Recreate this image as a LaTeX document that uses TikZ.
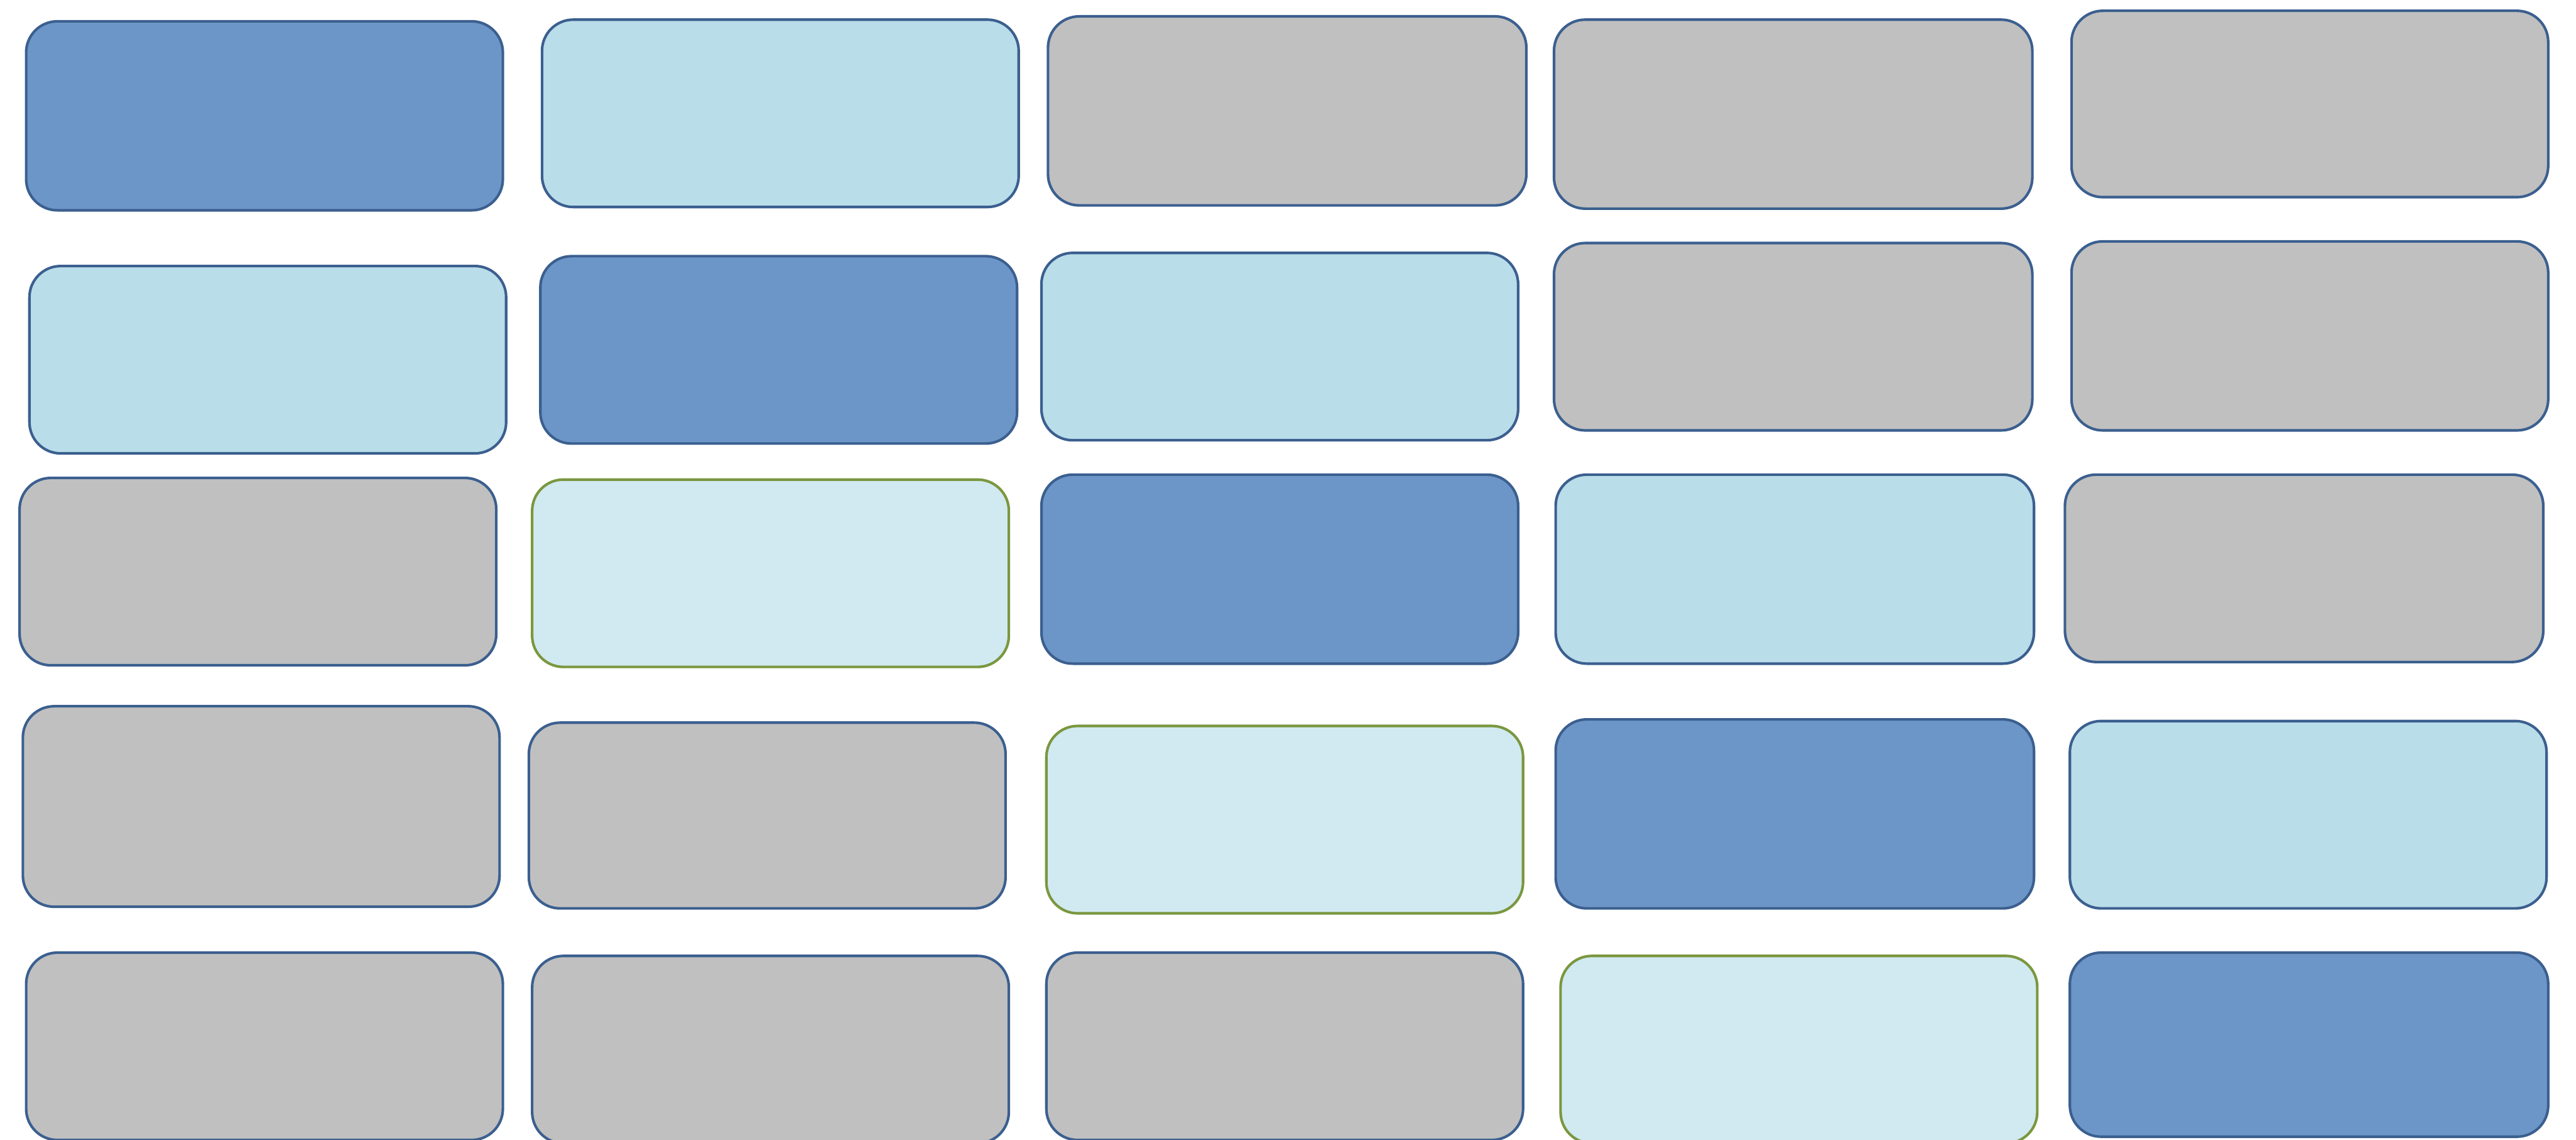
\documentclass[tikz,border=0pt]{standalone}
\usepackage{xcolor}
\usepackage{tikz}
\usetikzlibrary{positioning}
\definecolor{tileBlue}{HTML}{6D96C8}
\definecolor{tileLight}{HTML}{B9DDE9}
\definecolor{tileGrey}{HTML}{C0C0C0}
\definecolor{tilePale}{HTML}{D1E9F0}
\definecolor{edgeBlue}{HTML}{3B5F8F}
\definecolor{edgeGreen}{HTML}{7A973F}
\begin{document}
\begin{tikzpicture}[x=0.01cm,y=-0.01cm,
  tile/.style={rectangle,rounded corners=0.19cm,draw=edgeBlue,line width=0.45pt,
    minimum width=2.90cm,minimum height=1.14cm,inner sep=0pt,outer sep=0pt},
  darktile/.style={tile,fill=tileBlue},
  lighttile/.style={tile,fill=tileLight},
  greytile/.style={tile,fill=tileGrey},
  paletile/.style={tile,fill=tilePale,draw=edgeGreen}]
\clip (0,0) rectangle (1568,694);
% --- row 1 ---
  \node[darktile,minimum height=1.15cm] (t11) at (161,70.5) {};
  \node[lighttile] (t12) at (475,69) {};
  \node[greytile,minimum width=2.91cm,minimum height=1.15cm] (t13) at (783.5,67.5) {};
  \node[greytile,minimum width=2.91cm,minimum height=1.15cm] (t14) at (1091.5,69.5) {};
  \node[greytile,minimum height=1.134cm] (t15) at (1406,63.3) {};
% --- row 2 ---
  \node[lighttile] (t21) at (163,219) {};
  \node[darktile] (t22) at (474,213) {};
  \node[lighttile] (t23) at (779,211) {};
  \node[greytile,minimum width=2.91cm] (t24) at (1091.5,205) {};
  \node[greytile,minimum height=1.15cm] (t25) at (1406,204.5) {};
% --- row 3 ---
  \node[greytile] (t31) at (157,348) {};
  \node[paletile] (t32) at (469,349) {};
  \node[darktile,minimum height=1.15cm] (t33) at (779,346.5) {};
  \node[lighttile,minimum width=2.91cm,minimum height=1.15cm] (t34) at (1092.5,346.5) {};
  \node[greytile,minimum width=2.91cm] (t35) at (1402.5,346) {};
% --- row 4 ---
  \node[greytile,minimum height=1.22cm] (t41) at (159,491) {};
  \node[greytile,minimum height=1.13cm] (t42) at (467,496.5) {};
  \node[paletile] (t43) at (782,499) {};
  \node[darktile,minimum width=2.91cm,minimum height=1.15cm] (t44) at (1092.5,495.5) {};
  \node[lighttile] (t45) at (1405,496) {};
% --- row 5 (cut by the lower edge) ---
  \node[greytile] (t51) at (161,637) {};
  \node[greytile] (t52) at (469,639) {};
  \node[greytile] (t53) at (782,637) {};
  \node[paletile] (t54) at (1095,639) {};
  \node[darktile,minimum width=2.91cm,minimum height=1.12cm] (t55) at (1405.5,636) {};
\end{tikzpicture}
\end{document}
